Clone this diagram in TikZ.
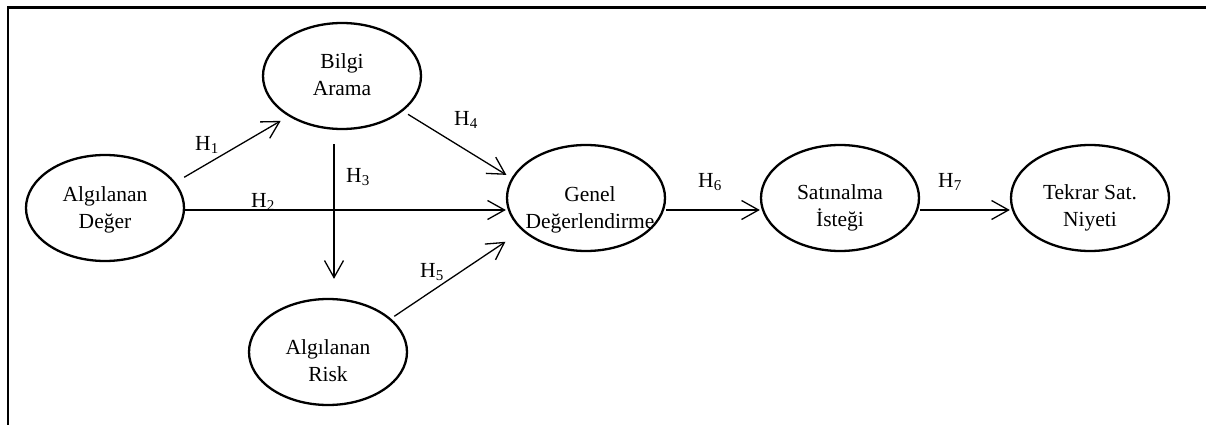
\documentclass[tikz,border=0pt]{standalone}
\usepackage{fontspec}
\setmainfont{Liberation Serif}
\usetikzlibrary{shapes.geometric,arrows.meta}
\newcommand{\hyplabel}[1]{H\textsubscript{#1}}
\begin{document}
\begin{tikzpicture}[x=1pt,y=-1pt,
  ell/.style={draw, ellipse, line width=2.3pt, minimum width=158pt, minimum height=106pt, inner sep=0pt},
  txt/.style={font=\fontsize{21.5}{27}\selectfont, align=center, inner sep=0pt},
  hyp/.style={font=\fontsize{21.5}{27}\selectfont, inner sep=0pt},
  arr/.style={line width=1.3pt, -{Straight Barb[length=17pt,width=19pt]}},
]
\useasboundingbox (0,0) rectangle (1206,425);
\draw[line width=2.6pt] (8,425) -- (8,7.5) -- (1206,7.5);

% ellipses
\node[ell] (ad) at (105,208) {};
\node[ell] (ba) at (342,76) {};
\node[ell] (gd) at (586,198) {};
\node[ell] (ar) at (328,352) {};
\node[ell] (si) at (840,198) {};
\node[ell] (tn) at (1090,198) {};

% texts
\node[txt] (adt) at (105,210) {Algılanan\\Değer};
\node[txt] (bat) at (342,75) {Bilgi\\Arama};
\node[txt] (gdt) at (590,210) {Genel\\Değerlendirme};
\node[txt] (art) at (328,361) {Algılanan\\Risk};
\node[txt] (sit) at (840,208) {Satınalma\\İsteği};
\node[txt] (tnt) at (1090,208) {Tekrar Sat.\\Niyeti};

% connectors
\draw[arr, shorten <=10pt, shorten >=9pt] (ad.20) -- (ba.217);
\draw[arr] ([yshift=-2pt]ad.east) -- ([yshift=-2pt]ad.east -| gd.west);
\draw[arr, shorten <=14pt, shorten >=19pt] ([xshift=-8pt]ba.south) -- ([xshift=-8pt]ba.south |- ar.north);
\draw[arr, shorten <=6pt, shorten >=6pt] (ba.-30) -- (gd.165);
\draw[arr, shorten <=4pt, shorten >=20pt] (ar.28) -- (gd.207);
\draw[arr] ([yshift=-12pt]gd.east) -- ([yshift=-12pt]si.west);
\draw[arr] ([yshift=-12pt]si.east) -- ([yshift=-12pt]tn.west);

% labels
\node[hyp] (h1) at (207,145) {\hyplabel{1}};
\node[hyp] (h2) at (263,202) {\hyplabel{2}};
\node[hyp] (h3) at (358,177) {\hyplabel{3}};
\node[hyp] (h4) at (466,120) {\hyplabel{4}};
\node[hyp] (h5) at (432,272) {\hyplabel{5}};
\node[hyp] (h6) at (710,182) {\hyplabel{6}};
\node[hyp] (h7) at (950,182) {\hyplabel{7}};
\end{tikzpicture}
\end{document}
